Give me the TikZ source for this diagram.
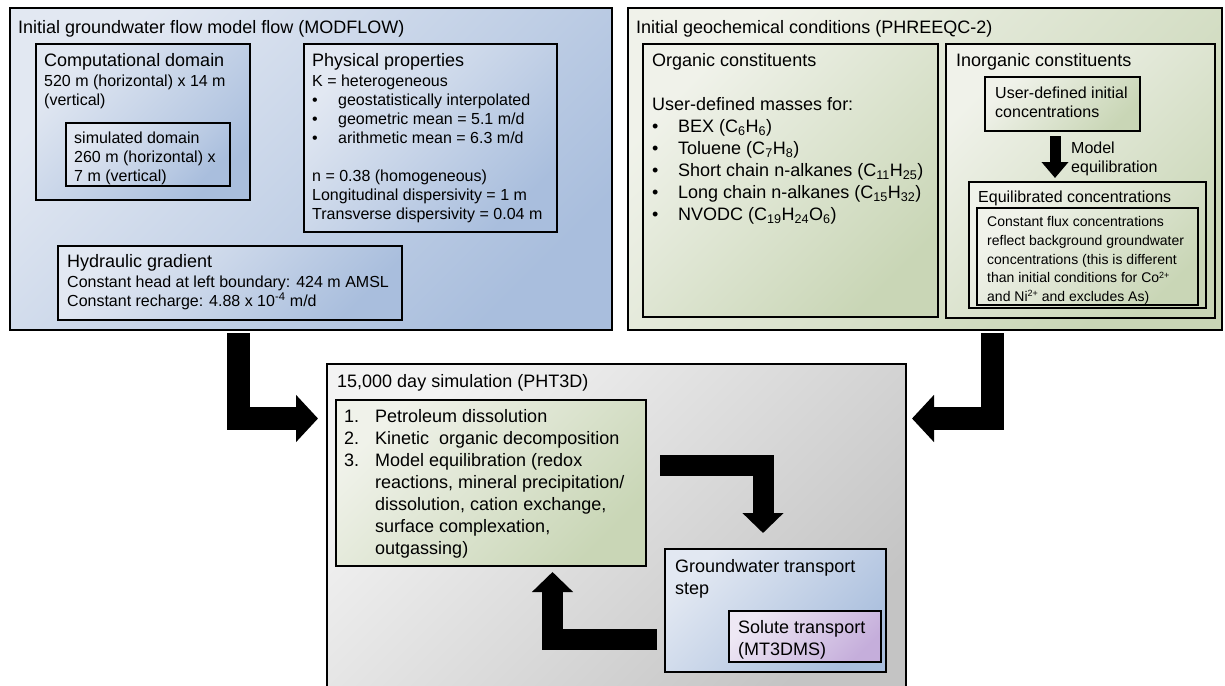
\documentclass[tikz,border=0pt]{standalone}
\usepackage{fontspec}
\setmainfont{Liberation Sans}
\usetikzlibrary{arrows.meta}
\definecolor{blueL}{HTML}{E2E8F2}
\definecolor{blueD}{HTML}{A9BEDD}
\definecolor{greenL}{HTML}{F0F2EA}
\definecolor{greenD}{HTML}{C9D6B6}
\definecolor{grayL}{HTML}{F3F3F3}
\definecolor{grayD}{HTML}{C4C4C4}
\definecolor{purpL}{HTML}{EEE8F4}
\definecolor{purpD}{HTML}{C5AEDB}
\tikzstyle{panel} = [rectangle, anchor=north west, draw=black, line width=2.6pt, inner sep=0pt, outer sep=0pt]
\tikzstyle{bluefill} = [top color=blueL, bottom color=blueD, shading angle=45]
\tikzstyle{greenfill} = [top color=greenL, bottom color=greenD, shading angle=45]
\tikzstyle{grayfill} = [top color=grayL, bottom color=grayD, shading angle=45]
\tikzstyle{purpfill} = [top color=purpL, bottom color=purpD, shading angle=45]
\tikzstyle{headtxt} = [anchor=north west, inner sep=0pt, font=\fontsize{18}{22}\selectfont]
\tikzstyle{bodytxt} = [anchor=north west, inner sep=0pt, align=left, font=\fontsize{16}{19}\selectfont]
\tikzstyle{notetxt} = [anchor=north west, inner sep=0pt, align=left, font=\fontsize{14}{18.6}\selectfont]
\tikzstyle{listtxt} = [anchor=north west, inner sep=0pt, align=left, font=\fontsize{18}{22}\selectfont]
\tikzstyle{bigarrow} = [line width=23pt, line join=miter, -{Triangle[length=22pt,width=46pt]}]
\tikzstyle{midarrow} = [line width=21pt, line join=miter, -{Triangle[length=20pt,width=40pt]}]
\tikzstyle{smallarrow} = [line width=11pt, -{Triangle[length=16pt,width=26pt]}]

\begin{document}
\begin{tikzpicture}[x=1pt, y=1pt]
\useasboundingbox (0,0) rectangle (1225,-685);
\clip (0,0) rectangle (1225,-685);

% flow model
\node (modflow) [panel, bluefill, minimum width=602pt, minimum height=322pt] at (10,-8) {};
\node (modflowtitle) [headtxt] at ([shift={(8,-12.3)}]modflow.north west) {Initial groundwater flow model flow (MODFLOW)};
\node (comp) [panel, bluefill, minimum width=214pt, minimum height=156pt] at (36,-44) {};
\node (comphead) [headtxt] at ([shift={(8,-9.3)}]comp.north west) {Computational domain};
\node (compbody) [bodytxt] at ([shift={(8,-31.1)}]comp.north west) {520 m (horizontal) x 14 m\\(vertical)};
\node (sim) [panel, bluefill, minimum width=164pt, minimum height=63pt] at (66,-123) {};
\node (simbody) [bodytxt] at ([shift={(8,-9.1)}]sim.north west) {simulated domain\\260 m (horizontal) x\\7 m (vertical)};
\node (phys) [panel, bluefill, minimum width=253pt, minimum height=188pt] at (304,-44) {};
\node (physhead) [headtxt] at ([shift={(8,-9.3)}]phys.north west) {Physical properties};
\node (physbody) [bodytxt] at ([shift={(8,-31.1)}]phys.north west) {K = heterogeneous\\
  \makebox[26pt][l]{\textbullet}geostatistically interpolated\\
  \makebox[26pt][l]{\textbullet}geometric mean = 5.1 m/d\\
  \makebox[26pt][l]{\textbullet}arithmetic mean = 6.3 m/d\\[19pt]
  n = 0.38 (homogeneous)\\
  Longitudinal dispersivity = 1 m\\
  Transverse dispersivity = 0.04 m};
\node (hyd) [panel, bluefill, minimum width=344pt, minimum height=74pt] at (58,-246) {};
\node (hydhead) [headtxt] at ([shift={(9,-8.3)}]hyd.north west) {Hydraulic gradient};
\node (hydbody) [bodytxt] at ([shift={(9,-30.1)}]hyd.north west) {Constant head at left boundary: 424 m AMSL\\Constant recharge: 4.88 x 10\textsuperscript{-4} m/d};

% geochemistry
\node (geochem) [panel, greenfill, minimum width=594pt, minimum height=322pt] at (628,-8) {};
\node (geochemtitle) [headtxt] at ([shift={(8,-12.3)}]geochem.north west) {Initial geochemical conditions (PHREEQC-2)};
\node (org) [panel, greenfill, minimum width=295pt, minimum height=273pt] at (643,-44) {};
\node (orgbody) [listtxt] at ([shift={(9,-9.3)}]org.north west) {Organic constituents\\[22pt]
  User-defined masses for:\\
  \makebox[26pt][l]{\textbullet}BEX (C\textsubscript{6}H\textsubscript{6})\\
  \makebox[26pt][l]{\textbullet}Toluene (C\textsubscript{7}H\textsubscript{8})\\
  \makebox[26pt][l]{\textbullet}Short chain n-alkanes (C\textsubscript{11}H\textsubscript{25})\\
  \makebox[26pt][l]{\textbullet}Long chain n-alkanes (C\textsubscript{15}H\textsubscript{32})\\
  \makebox[26pt][l]{\textbullet}NVODC (C\textsubscript{19}H\textsubscript{24}O\textsubscript{6})};
\node (inorg) [panel, greenfill, minimum width=269pt, minimum height=274pt] at (946,-44) {};
\node (inorghead) [headtxt] at ([shift={(10,-9.3)}]inorg.north west) {Inorganic constituents};
\node (udic) [panel, greenfill, minimum width=155pt, minimum height=54pt] at (985,-77) {};
\node (udicbody) [bodytxt] at ([shift={(10,-10.1)}]udic.north west) {User-defined initial\\concentrations};
\node (equil) [panel, greenfill, minimum width=237pt, minimum height=126pt] at (969,-182) {};
\node (equilhead) [bodytxt] at ([shift={(9,-9.1)}]equil.north west) {Equilibrated concentrations};
\node (flux) [panel, greenfill, minimum width=221pt, minimum height=97pt] at (977,-208) {};
\node (fluxbody) [notetxt] at ([shift={(10,-8.6)}]flux.north west) {Constant flux concentrations\\reflect background groundwater\\concentrations (this is different\\than initial conditions for Co\raisebox{4.5pt}{\fontsize{9}{9}\selectfont 2+}\\and Ni\raisebox{4.5pt}{\fontsize{9}{9}\selectfont 2+} and excludes As)};
\node (eqlabel) [bodytxt] at ([shift={(86,-11.1)}]udic.south west) {Model\\equilibration};

% simulation
\node (gray) [panel, grayfill, minimum width=579pt, minimum height=340pt] at (327,-364) {};
\node (graytitle) [headtxt] at ([shift={(10,-10.3)}]gray.north west) {15,000 day simulation (PHT3D)};
\node (list) [panel, greenfill, minimum width=310pt, minimum height=166pt] at (336,-400) {};
\node (listbody) [listtxt] at ([shift={(8,-9.3)}]list.north west) {\makebox[31pt][l]{1.}Petroleum dissolution\\
  \makebox[31pt][l]{2.}Kinetic~~organic decomposition\\
  \makebox[31pt][l]{3.}Model equilibration (redox\\
  \hspace*{31pt}reactions, mineral precipitation/\\
  \hspace*{31pt}dissolution, cation exchange,\\
  \hspace*{31pt}surface complexation,\\
  \hspace*{31pt}outgassing)};
\node (gw) [panel, bluefill, minimum width=221pt, minimum height=123pt] at (665,-549) {};
\node (gwhead) [listtxt] at ([shift={(10,-10.3)}]gw.north west) {Groundwater transport\\step};
\node (solute) [panel, purpfill, minimum width=152pt, minimum height=51pt] at (729,-611) {};
\node (solutebody) [listtxt] at ([shift={(9,-9.3)}]solute.north west) {Solute transport\\(MT3DMS)};

% block arrows
\coordinate (l1) at ([shift={(228.5,-3)}]modflow.south west);
\coordinate (l2) at ([shift={(-9,-54.5)}]gray.north west);
\draw [bigarrow] (l1) |- (l2);
\coordinate (r1) at ([shift={(364,-3)}]geochem.south west);
\coordinate (r2) at ([shift={(6,-54.5)}]gray.north east);
\draw [bigarrow] (r1) |- (r2);
\coordinate (m1) at ([shift={(14,-65.5)}]list.north east);
\coordinate (m2) at ([shift={(98,16)}]gw.north west);
\draw [midarrow] (m1) -| (m2);
\coordinate (u1) at ([shift={(-8,-90.5)}]gw.north west);
\coordinate (u2) at ([shift={(216.5,-6)}]list.south west);
\draw [midarrow] (u1) -| (u2);
\coordinate (s1) at ([shift={(70,-5)}]udic.south west);
\coordinate (s2) at ([shift={(86,4)}]equil.north west);
\draw [smallarrow] (s1) -- (s2);

\end{tikzpicture}
\end{document}
